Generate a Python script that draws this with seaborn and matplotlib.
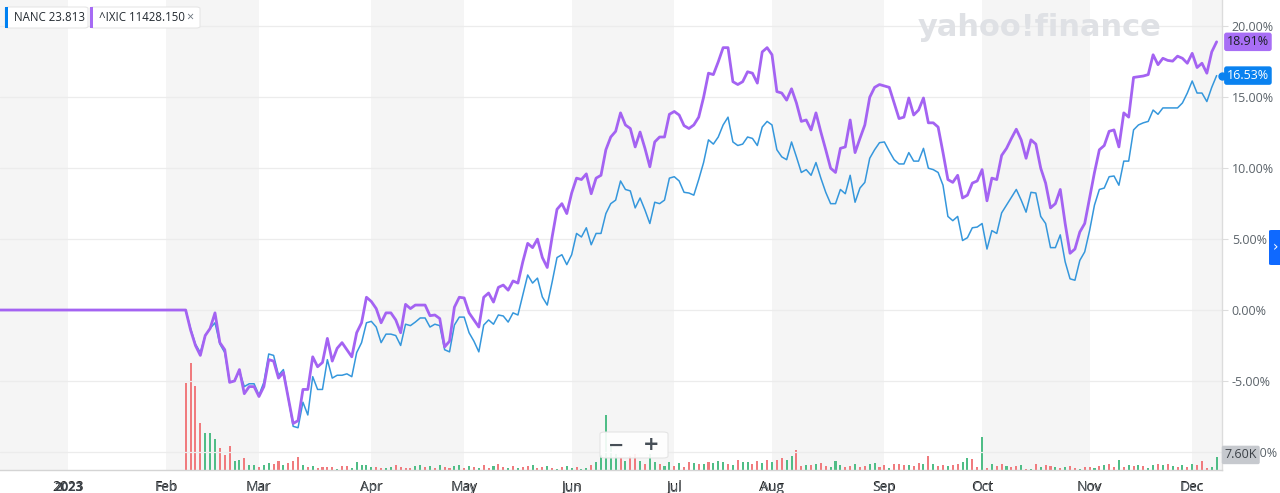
import numpy as np
import pandas as pd
import matplotlib
matplotlib.use("Agg")
import matplotlib.pyplot as plt
import seaborn as sns
from matplotlib.patches import FancyBboxPatch, Rectangle

# ---------------- data ----------------
start_date = "2022-12-12"
end_date = "2023-12-08"
nanc_start = "2023-02-07"
holidays = ["2022-12-26", "2023-01-02", "2023-01-16", "2023-02-20", "2023-04-07",
            "2023-05-29", "2023-06-19", "2023-07-04", "2023-09-04", "2023-11-23"]

month_labels = ["2023", "Feb", "Mar", "Apr", "May", "Jun", "Jul", "Aug", "Sep", "Oct", "Nov", "Dec"]
pct_ticks = [-10, -5, 0, 5, 10, 15, 20]

# ^IXIC before NANC existed (flat at 0 %)
ixic_pre = [0.0, 0.0, 0.0, 0.0, 0.0, 0.0, 0.0, 0.0, 0.0, 0.0,
            0.0, 0.0, 0.0, 0.0, 0.0, 0.0, 0.0, 0.0, 0.0, 0.0,
            0.0, 0.0, 0.0, 0.0, 0.0, 0.0, 0.0, 0.0, 0.0, 0.0,
            0.0, 0.0, 0.0, 0.0, 0.0, 0.0, 0.0, 0.0]

# % change since 2023-02-07, one value per trading day
ixic_pct = [
    0.0, -1.4, -2.5, -3.2, -1.8, -1.3, -0.2, -2.3, -2.8, -5.1,
    -5.0, -4.2, -5.9, -5.4, -5.4, -6.1, -5.4, -3.5, -3.6, -4.8,
    -4.4, -6.2, -8.0, -7.8, -5.6, -5.6, -3.3, -4.0, -3.7, -2.0,
    -3.6, -2.7, -2.3, -2.8, -3.3, -1.6, -0.9, 0.9, 0.6, 0.1,
    -0.9, -0.2, -0.2, -0.7, -1.6, 0.4, 0.1, 0.35, 0.35, 0.35,
    -0.4, -0.35, -0.6, -2.6, -2.2, 0.2, 0.9, 0.85, -0.2, -0.7,
    -1.2, 0.9, 1.2, 0.56, 1.6, 1.76, 1.4, 2.05, 1.9, 3.4,
    4.7, 4.4, 5.0, 3.7, 3.0, 5.15, 7.1, 7.5, 6.8, 8.25,
    9.3, 9.2, 9.6, 8.2, 9.3, 9.5, 11.3, 12.2, 12.6, 13.9,
    13.05, 12.8, 11.5, 12.55, 11.4, 10.1, 11.85, 12.2, 12.2, 13.8,
    14.0, 13.75, 13.0, 12.8, 13.05, 13.6, 15.0, 16.7, 16.6, 17.5,
    18.5, 18.5, 16.1, 15.9, 16.1, 16.8, 16.7, 16.0, 18.2, 18.5,
    18.0, 15.4, 15.3, 14.8, 15.6, 14.6, 13.3, 13.4, 12.7, 13.9,
    12.55, 11.3, 10.0, 9.7, 11.4, 11.5, 13.4, 11.1, 12.1, 13.05,
    15.0, 15.7, 15.9, 15.8, 15.7,
    14.6, 13.5, 13.6, 14.95, 13.75, 14.1, 14.95, 13.2, 13.2, 12.9,
    11.1, 9.2, 9.0, 9.5, 7.9, 8.1, 8.95, 9.1, 9.9, 7.7,
    9.3, 9.2, 10.9, 11.4, 12.1, 12.75, 12.0, 10.7, 12.0, 11.7,
    10.0, 8.95, 7.2, 7.5, 8.5, 6.1, 4.0, 4.3, 5.5, 6.1,
    7.9, 9.7, 11.3, 11.6, 12.6, 12.7, 11.5, 13.9, 13.6, 16.4,
    16.45, 16.5, 16.6, 18.0, 17.3, 17.75, 17.6, 17.55, 17.9, 17.75,
    17.4, 18.1, 17.1, 17.4, 16.7, 18.2, 18.91]

nanc_pct = [
    0.0, -1.3, -2.4, -3.0, -1.8, -1.3, -0.9, -2.4, -3.0, -5.1,
    -5.0, -4.3, -5.4, -5.2, -5.2, -6.0, -5.1, -3.1, -3.2, -4.6,
    -4.2, -6.2, -8.2, -8.3, -6.5, -7.4, -4.7, -5.6, -5.6, -3.5,
    -4.8, -4.6, -4.6, -4.5, -4.7, -3.0, -2.3, -0.9, -0.8, -1.2,
    -2.3, -1.7, -1.7, -1.8, -2.5, -1.0, -1.1, -0.85, -0.56, -0.56,
    -1.2, -1.0, -1.1, -2.8, -2.95, -1.06, -0.5, -0.5, -1.6, -2.2,
    -2.95, -1.06, -0.7, -1.0, -0.35, -0.42, -0.85, -0.2, -0.35, 1.06,
    2.47, 1.9, 2.25, 0.92, 0.35, 1.97, 3.7, 3.9, 3.2, 3.9,
    5.4, 5.15, 5.8, 4.6, 5.4, 5.4, 6.8, 7.5, 7.75, 9.1,
    8.5, 8.4, 7.2, 7.9, 7.05, 6.1, 7.6, 7.5, 7.75, 9.3,
    9.4, 9.1, 8.3, 8.25, 8.1, 9.2, 10.4, 12.0, 11.7, 12.2,
    13.05, 13.6, 11.85, 11.6, 11.7, 12.2, 12.1, 11.6, 12.9, 13.3,
    13.05, 11.3, 10.8, 10.6, 11.85, 10.8, 9.7, 9.9, 9.5, 10.4,
    9.3, 8.3, 7.5, 7.5, 8.5, 8.2, 9.5, 7.6, 8.6, 9.0,
    10.7, 11.3, 11.8, 11.85, 11.2,
    10.6, 10.3, 10.3, 11.1, 10.5, 10.5, 11.4, 10.0, 9.9, 9.7,
    8.8, 6.6, 6.3, 6.6, 4.9, 5.1, 5.8, 5.85, 6.1, 4.3,
    5.6, 5.4, 6.85, 7.4, 7.95, 8.5, 7.75, 6.9, 8.3, 8.25,
    6.6, 6.1, 4.4, 4.4, 5.3, 3.4, 2.2, 2.1, 3.5, 4.1,
    5.6, 7.4, 8.5, 8.6, 9.4, 9.45, 8.8, 10.5, 10.5, 12.7,
    13.05, 13.2, 13.3, 14.1, 13.8, 14.25, 14.25, 14.25, 14.25, 14.6,
    15.3, 16.15, 15.3, 15.3, 14.7, 15.7, 16.53]

# NANC daily volume (thousands of shares)
nanc_volume_k = [
    50.9, 62.6, 49.1, 27.5, 21.6, 21.6, 18.1, 12.9, 8.8, 14.0,
    5.3, 5.9, 7.0, 3.2, 3.2, 2.0, 3.2, 4.1, 3.5, 5.3,
    3.2, 4.1, 5.3, 7.6, 3.2, 1.8, 2.3, 1.2, 1.8, 1.8,
    2.0, 0.6, 2.3, 2.3, 0.9, 4.7, 2.9, 2.9, 2.0, 2.0,
    1.2, 1.2, 1.8, 2.9, 1.8, 1.2, 1.2, 2.3, 2.9,
    1.8, 2.3, 1.2, 2.9, 1.8, 1.2, 2.3, 2.9,
    1.2, 2.3, 1.8, 1.2, 2.9, 1.2, 2.3, 3.5, 1.8, 1.2, 2.3, 1.2, 1.8, 2.3, 2.9, 1.2, 1.8, 2.3, 1.2, 0.6, 1.8, 2.3,
    1.2, 1.8, 0.6, 1.2, 2.9, 4.7, 8.8, 32.0, 14.6, 9.4, 7.0, 5.3, 8.2, 9.4, 5.3, 3.5, 9.4, 4.7, 3.5, 2.3, 4.7,
    2.3, 4.1, 1.8, 4.7, 4.1, 3.5, 3.5, 4.7, 4.1, 5.3, 4.7, 3.5, 2.9, 5.9, 4.7, 4.7, 3.5, 5.3, 4.1, 5.9,
    4.7, 5.9, 7.0, 5.9, 8.2, 11.7, 2.3, 2.9, 2.9, 3.5, 4.1, 2.3, 1.8, 5.3, 2.9, 1.8, 2.3, 3.5, 1.8, 2.3, 3.5, 4.1, 1.8,
    2.9, 1.2, 3.5, 3.5, 2.9, 2.9, 2.3, 4.1, 3.5, 8.2, 3.5, 2.3, 2.9, 2.3, 2.9, 3.5, 4.7, 7.0, 6.4, 1.8,
    19.3, 1.2, 3.5, 2.3, 3.5, 2.3, 1.8, 2.3, 2.9, 0.6, 0.6, 3.5, 1.8, 2.9, 2.3, 1.8, 1.2, 1.8, 2.3, 1.2, 0.6, 1.8,
    1.8, 1.2, 2.3, 2.9, 3.5, 1.8, 5.9, 1.8, 2.9, 2.3, 2.9, 2.3, 1.2, 2.9, 3.5, 2.9, 3.5, 2.3, 1.8, 2.9, 1.8,
    3.5, 2.9, 5.3, 1.2, 1.8, 7.6]

# day direction for the volume bars: g = up, r = down
volume_dir = ("rrrrgggrrrggrggrggrrgrrrgrgrrrrgrrgggggrrggrrrrgg"
              "rgrgrrgg"
              "rgrgrrgrrgrgrrgrrgrgrg"
              "grggrgggggrgrrgrggrgg"
              "rgrrgrgrgggrgrggrrgr"
              "grrggrrgrgrrgggrrgrrggr"
              "rgrrrgrrgrgrrgrrggrr"
              "grgrrgrrgrgrgrrgrgrrgr"
              "rgrgrrgrgrgrggrgrgrgr"
              "grrrgg")

# ---------------- derived positions ----------------
dates = pd.bdate_range(start_date, end_date)
dates = dates[~dates.isin(pd.to_datetime(holidays))]
idx_all = np.arange(len(dates))
i0 = int(np.where(dates == pd.Timestamp(nanc_start))[0][0])
x_nanc = idx_all[i0:i0 + len(nanc_pct)]
x_ixic = idx_all[:len(ixic_pre) + len(ixic_pct)]
ixic_all = np.array(ixic_pre + ixic_pct)

s = pd.Series(idx_all, index=dates)
firsts = s.groupby(dates.to_period("M")).first()
month_idx = list(firsts.values[1:])  # Jan 2023 .. Dec 2023

# ---------------- style ----------------
sns.set_style("white")
plt.rcParams["font.family"] = ["Open Sans", "DejaVu Sans"]

W, H = 1280, 493
fig = plt.figure(figsize=(W / 100, H / 100), dpi=100)
fig.patch.set_facecolor("white")


def fx(px):
    return px / W


def fy(py):
    return 1 - py / H


rect = [0, fy(470), fx(1222), 470 / H]
axv = fig.add_axes(rect)
ax = fig.add_axes(rect, sharex=axv)
ax.patch.set_visible(False)

xmin, xmax = 0.0, 250.1
ax.set_xlim(xmin, xmax)
ax.set_ylim(-11.28, 21.86)
axv.set_ylim(0, 275)

# alternating month bands
band_edges = [xmin] + month_idx + [xmax]
for k in range(len(band_edges) - 1):
    if k % 2 == 0:
        axv.axvspan(band_edges[k], band_edges[k + 1], color="#f5f5f5", lw=0, zorder=0)

# volume bars
RED, GREEN = "#f07b7e", "#4fbd86"
x_vol = x_nanc[:len(nanc_volume_k)]
bar_colors = [GREEN if c == "g" else RED for c in volume_dir[:len(x_vol)]]
axv.bar(x_vol, nanc_volume_k[:len(x_vol)], width=0.42, color=bar_colors, lw=0, zorder=2)
for sp in axv.spines.values():
    sp.set_visible(False)
axv.set_xticks([])
axv.set_yticks([])

# grid lines
for t in pct_ticks:
    ax.axhline(t, color="#ececec", lw=0.9, zorder=1)

# watermark
ax.text(fx(1040), fy(27), "yahoo!finance", transform=fig.transFigure, ha="center", va="center",
        fontsize=22, fontweight="bold", color="#dfe1e5", family="DejaVu Sans", zorder=1)

# lines
BLUE_LINE, PURPLE_LINE = "#3597dc", "#a463f2"
df_n = pd.DataFrame({"x": x_nanc, "pct": nanc_pct})
df_i = pd.DataFrame({"x": x_ixic, "pct": ixic_all})
sns.lineplot(data=df_n, x="x", y="pct", ax=ax, color=BLUE_LINE, lw=1.1, zorder=3, estimator=None)
sns.lineplot(data=df_i, x="x", y="pct", ax=ax, color=PURPLE_LINE, lw=2.0, zorder=4, estimator=None)
ax.set_xlabel("")
ax.set_ylabel("")

# axes styling
ax.yaxis.tick_right()
ax.set_yticks(pct_ticks)
ax.set_yticklabels([f"{t:.2f}%" for t in pct_ticks])
ax.tick_params(axis="y", length=4, width=0.8, color="#dddddd", labelsize=9,
               labelcolor="#5b636a", pad=3, left=False, right=True)
ax.set_xticks(month_idx)
ax.set_xticklabels(month_labels)
ax.tick_params(axis="x", length=5, width=0.8, color="#cfcfcf", labelsize=9,
               labelcolor="#5b636a", pad=3)
ax.get_xticklabels()[0].set_fontweight("bold")
ax.get_xticklabels()[0].set_color("#3b4249")
for side in ["left", "top"]:
    ax.spines[side].set_visible(False)
ax.spines["bottom"].set_color("#d4d4d4")
ax.spines["right"].set_color("#dcdcdc")
ax.spines["bottom"].set_linewidth(1)
ax.spines["right"].set_linewidth(1)

# end-of-series tags
TAG_PURPLE, TAG_BLUE = "#a86ef5", "#0a82f0"
ax.plot([xmax], [nanc_pct[-1]], "o", color=TAG_BLUE, ms=5, clip_on=False, zorder=8)
ax.annotate(f"{ixic_pct[-1]:.2f}%", xy=(xmax, ixic_pct[-1]), xytext=(3.5, 0),
            textcoords="offset points", ha="left", va="center", fontsize=9, color="#1d2228",
            bbox=dict(boxstyle="round,pad=0.22,rounding_size=0.2", fc=TAG_PURPLE, ec="none"),
            annotation_clip=False, zorder=9)
ax.annotate(f"{nanc_pct[-1]:.2f}%", xy=(xmax, nanc_pct[-1]), xytext=(3.5, 0),
            textcoords="offset points", ha="left", va="center", fontsize=9, color="white",
            bbox=dict(boxstyle="round,pad=0.22,rounding_size=0.2", fc=TAG_BLUE, ec="none"),
            annotation_clip=False, zorder=9)
ax.annotate(f"{nanc_volume_k[-1]:.2f}K", xy=(xmax, nanc_volume_k[-1]), xycoords=axv.transData,
            xytext=(1.8, 1.5), textcoords="offset points", ha="left", va="center", fontsize=9,
            color="#3d4248",
            bbox=dict(boxstyle="round,pad=0.22,rounding_size=0.15", fc="#c6c9ce", ec="none"),
            annotation_clip=False, zorder=9)

# legend chips (top-left)
def chip(x0, x1, color, label, close=False):
    y0, y1 = 7, 28
    box = FancyBboxPatch((fx(x0), fy(y1)), fx(x1 - x0), (y1 - y0) / H,
                         boxstyle="round,pad=0,rounding_size=0.003", transform=fig.transFigure,
                         fc="white", ec="#e6e6e6", lw=0.8, zorder=5)
    fig.add_artist(box)
    bar = Rectangle((fx(x0), fy(y1)), fx(3), (y1 - y0) / H, transform=fig.transFigure,
                    fc=color, ec="none", zorder=6)
    fig.add_artist(bar)
    fig.text(fx(x0 + 9), fy(17.5), label, ha="left", va="center", fontsize=8.3,
             color="#232a31", zorder=7)
    if close:
        fig.text(fx(x1 - 10), fy(17.5), "×", ha="center", va="center", fontsize=9,
                 color="#6e7780", zorder=7)


chip(5, 88, "#0081f2", "NANC 23.813")
chip(90, 200, "#a66bf4", "^IXIC 11428.150", close=True)

# zoom control
zbox = FancyBboxPatch((fx(600), fy(458)), fx(68), 26 / H, boxstyle="round,pad=0,rounding_size=0.004",
                      transform=fig.transFigure, fc="white", ec="#e2e2e2", lw=0.8, alpha=0.9, zorder=5)
fig.add_artist(zbox)
fig.text(fx(616), fy(445), "−", ha="center", va="center", fontsize=14, fontweight="bold",
         color="#464e56", family="DejaVu Sans", zorder=7)
fig.text(fx(651), fy(445), "+", ha="center", va="center", fontsize=14, fontweight="bold",
         color="#464e56", family="DejaVu Sans", zorder=7)

# right-side tab
tab = FancyBboxPatch((fx(1269), fy(265)), fx(14), 35 / H, boxstyle="round,pad=0,rounding_size=0.002",
                     transform=fig.transFigure, fc="#0f69ff", ec="none", zorder=5)
fig.add_artist(tab)
fig.text(fx(1275), fy(247), "›", ha="center", va="center", fontsize=10, color="white",
         family="DejaVu Sans", zorder=7)

fig.savefig("out.png", dpi=100, facecolor="white")
